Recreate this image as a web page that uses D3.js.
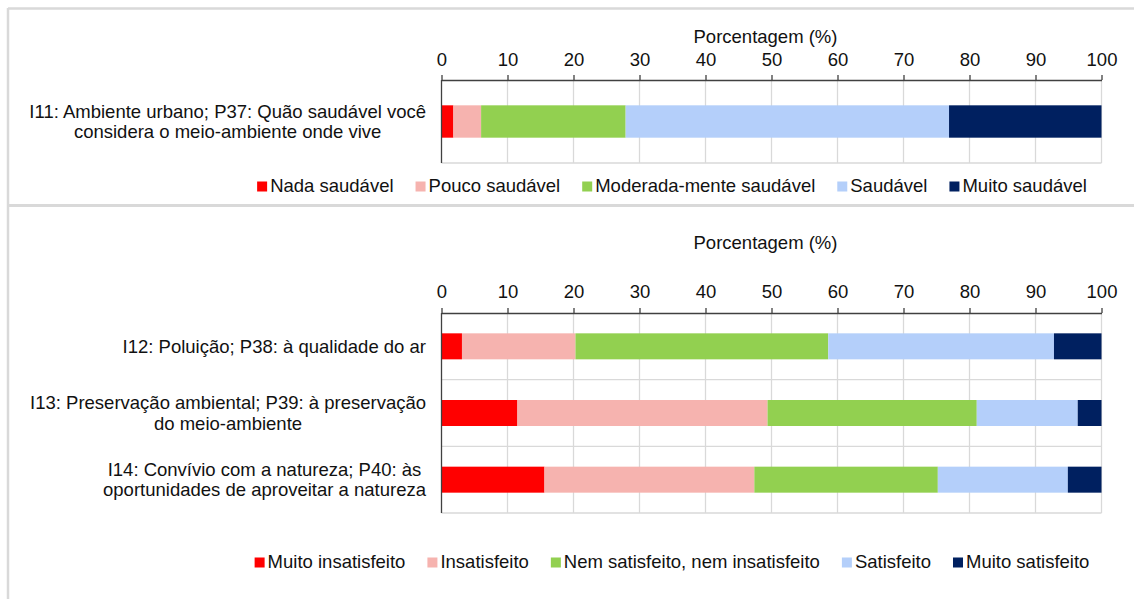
<!DOCTYPE html>
<html>
<head>
<meta charset="utf-8">
<script src="https://cdn.jsdelivr.net/npm/d3@7"></script>
<style>
  body { margin: 0; background: #fff; }
  svg { display: block; font-family: "Liberation Sans", Arial, sans-serif; }
</style>
</head>
<body>
<svg id="chart"></svg>
<script>
// top panel data
var topCategories = ["I11: Ambiente urbano; P37: Quão saudável você\nconsidera o meio-ambiente onde vive"];
var topKeys = ["Nada saudável", "Pouco saudável", "Moderada-mente saudável", "Saudável", "Muito saudável"];
var topValues = [
  [1.8, 4.2, 21.9, 49.0, 23.1]
];

// bottom panel data
var bottomCategories = [
  "I12: Poluição; P38: à qualidade do ar",
  "I13: Preservação ambiental; P39: à preservação\ndo meio-ambiente",
  "I14: Convívio com a natureza; P40: às\noportunidades de aproveitar a natureza"
];
var bottomKeys = ["Muito insatisfeito", "Insatisfeito", "Nem satisfeito, nem insatisfeito", "Satisfeito", "Muito satisfeito"];
var bottomValues = [
  [3.1, 17.2, 38.3, 34.2, 7.2],
  [11.5, 37.9, 31.7, 15.3, 3.6],
  [15.6, 31.8, 27.8, 19.7, 5.1]
];

var tickValues = [0, 10, 20, 30, 40, 50, 60, 70, 80, 90, 100];
var axisTitle = "Porcentagem (%)";
var colors = ["#ff0000", "#f6b3af", "#92d050", "#b4cffa", "#002060"];

var width = 1134, height = 599;
var fs = 18.5;
var svg = d3.select("#chart").attr("width", width).attr("height", height);

// panel frames
var frame = "#d9d9d9";
svg.append("line").attr("x1", 8).attr("x2", width).attr("y1", 8.5).attr("y2", 8.5)
   .attr("stroke", frame).attr("stroke-width", 2.5);
svg.append("line").attr("x1", 8).attr("x2", 8).attr("y1", 8).attr("y2", height)
   .attr("stroke", frame).attr("stroke-width", 2.5);
svg.append("line").attr("x1", 8).attr("x2", width).attr("y1", 205.5).attr("y2", 205.5)
   .attr("stroke", frame).attr("stroke-width", 3);

var x = d3.scaleLinear().domain([0, 100]).range([441.5, 1101.5]);

drawPanel({categories: topCategories, keys: topKeys, values: topValues,
           axisY: 80, bottom: 163, titleY: 43, tickPad: 9, legendY: 192});
drawPanel({categories: bottomCategories, keys: bottomKeys, values: bottomValues,
           axisY: 313, bottom: 513, titleY: 249, tickPad: 10, legendY: 568});

function drawPanel(p){
  var g = svg.append("g");
  var y = d3.scaleBand().domain(p.categories).range([p.axisY, p.bottom]);
  var barH = y.bandwidth() * 0.39;

  // grid
  g.selectAll("line.vgrid")
   .data(tickValues.slice(1))
   .enter().append("line")
   .attr("class", "vgrid")
   .attr("x1", function(d){ return x(d); })
   .attr("x2", function(d){ return x(d); })
   .attr("y1", p.axisY).attr("y2", p.bottom)
   .attr("stroke", "#d9d9d9").attr("stroke-width", 1.3);
  g.selectAll("line.hgrid")
   .data(p.categories)
   .enter().append("line")
   .attr("class", "hgrid")
   .attr("x1", x(0)).attr("x2", x(100))
   .attr("y1", function(d){ return y(d) + y.bandwidth(); })
   .attr("y2", function(d){ return y(d) + y.bandwidth(); })
   .attr("stroke", "#d9d9d9").attr("stroke-width", 1.3);

  // stacked bars
  var rows = p.categories.map(function(c, i){
    var r = {cat: c};
    p.keys.forEach(function(k, j){ r[k] = p.values[i][j]; });
    return r;
  });
  var series = d3.stack().keys(p.keys)(rows);
  g.selectAll("g.series")
   .data(series)
   .enter().append("g")
   .attr("class", "series")
   .attr("fill", function(d, i){ return colors[i]; })
   .selectAll("rect")
   .data(function(d){ return d; })
   .enter().append("rect")
   .attr("x", function(d){ return x(d[0]); })
   .attr("width", function(d){ return x(d[1]) - x(d[0]); })
   .attr("y", function(d){ return y(d.data.cat) + (y.bandwidth() - barH) / 2; })
   .attr("height", barH);

  // axes
  var axis = d3.axisTop(x).tickValues(tickValues).tickSize(5).tickPadding(p.tickPad).tickSizeOuter(0);
  var ag = g.append("g").attr("transform", "translate(0," + p.axisY + ")").call(axis);
  ag.select(".domain").attr("stroke", "#404040").attr("stroke-width", 1.3);
  ag.selectAll(".tick line").attr("stroke", "#404040").attr("stroke-width", 1.3);
  ag.selectAll(".tick text").attr("font-size", fs).attr("fill", "#111")
    .attr("font-family", "Liberation Sans, Arial, sans-serif");
  g.append("line").attr("x1", x(0)).attr("x2", x(0))
   .attr("y1", p.axisY).attr("y2", p.bottom)
   .attr("stroke", "#404040").attr("stroke-width", 1.3);

  g.append("text")
   .attr("x", x(50) - 6).attr("y", p.titleY)
   .attr("text-anchor", "middle").attr("font-size", fs).attr("fill", "#111")
   .text(axisTitle);

  // category labels: centered lines, block right aligned near the axis
  p.categories.forEach(function(c){
    var lines = c.split("\n");
    var cy = y(c) + y.bandwidth() / 2;
    var t = g.append("text").attr("font-size", fs).attr("fill", "#111").attr("text-anchor", "middle");
    var spans = lines.map(function(l, i){
      return t.append("tspan").attr("y", cy - (lines.length - 1) * 10.25 + 6.5 + i * 20.5).text(l);
    });
    var maxW = d3.max(spans, function(s){ return s.node().getComputedTextLength(); });
    spans.forEach(function(s){ s.attr("x", 426 - maxW / 2); });
  });

  // legend
  var lg = g.append("g");
  var cx = 0;
  p.keys.forEach(function(k, i){
    lg.append("rect").attr("x", cx).attr("y", p.legendY - 10.5)
      .attr("width", 10).attr("height", 10).attr("fill", colors[i]);
    var t = lg.append("text").attr("x", cx + 13).attr("y", p.legendY)
      .attr("font-size", fs).attr("fill", "#111").text(k);
    cx += 13 + t.node().getComputedTextLength() + 22;
  });
  var total = cx - 22;
  lg.attr("transform", "translate(" + (672 - total / 2) + ",0)");
}
</script>
</body>
</html>
